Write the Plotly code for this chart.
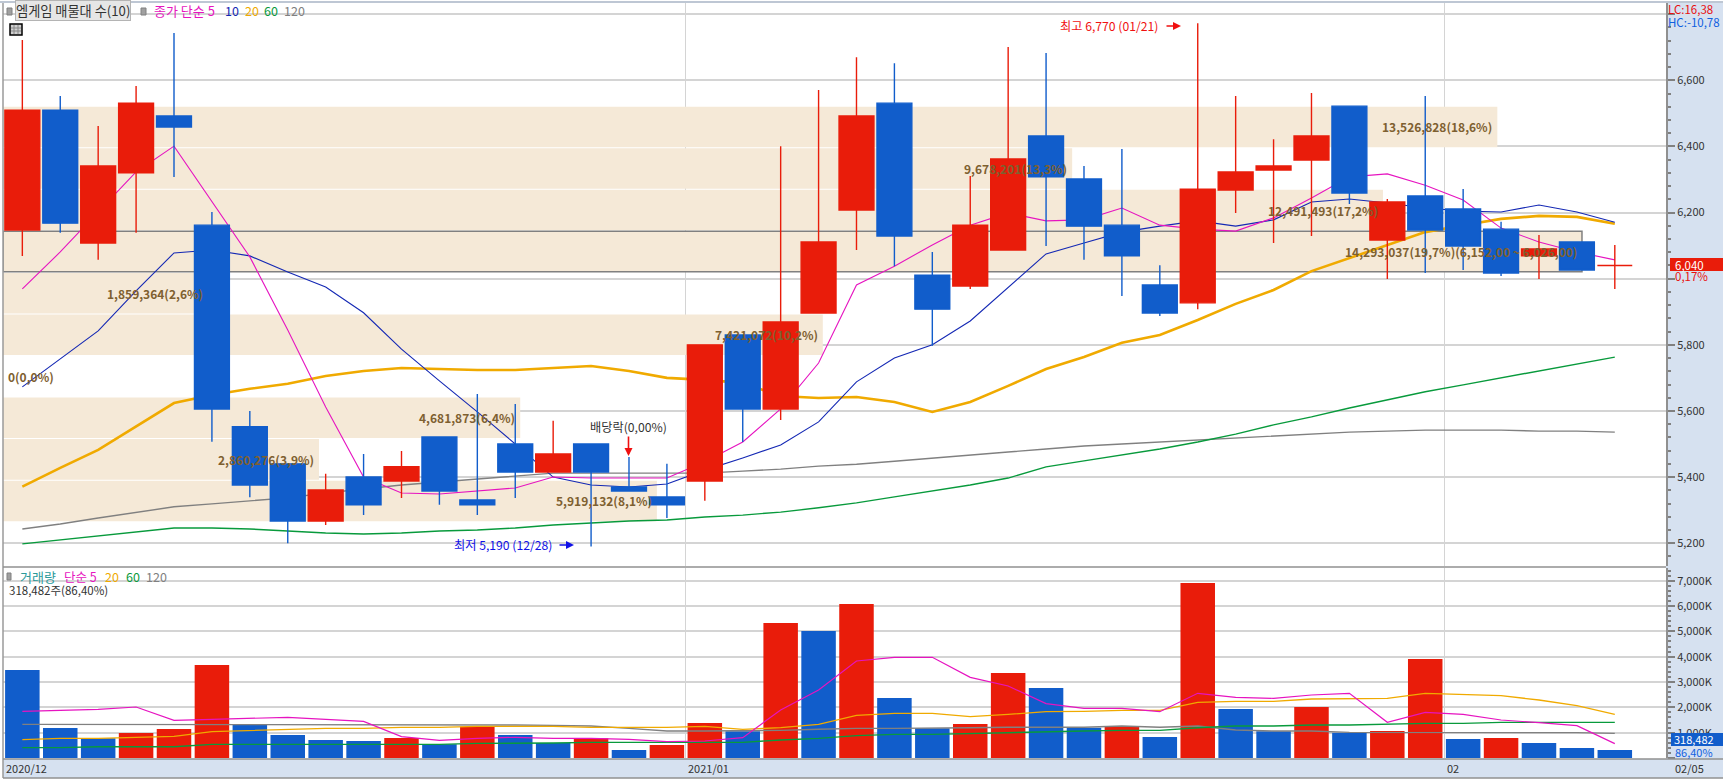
import plotly.graph_objects as go

W, H = 1723, 779
FONT = "Noto Sans CJK KR"

# ---- price candles -------------------------------------------------------
idx = list(range(43))
opens  = [6147,6510,6108,6320,6492,6162,5552,5440,5267,5400,5388,5521,5331,5500,5415,5500,5370,5340,5388,5830,5606,5896,6208,6531,6011,5978,6087,6432,6302,6162,5981,5927,6268,6329,6359,6522,6117,6250,6211,6150,6069,6111,6040]
highs  = [6722,6553,6462,6583,6743,6202,5600,5440,5410,5470,5479,5521,5651,5621,5570,5500,5461,5440,5800,5830,6401,6571,6670,6652,6081,6311,6701,6683,6341,6392,6041,6773,6553,6422,6562,6522,6241,6553,6271,6172,6132,6111,6102]
lows   = [6069,6139,6057,6139,6308,5507,5339,5200,5255,5285,5337,5316,5285,5337,5415,5190,5358,5276,5328,5506,5573,5896,6087,6038,5797,5969,6087,6099,6057,5948,5887,5908,6199,6108,6129,6226,5999,6017,6026,6008,5999,6026,5969]
closes = [6510,6168,6341,6531,6459,5606,5376,5267,5361,5316,5431,5358,5316,5415,5470,5415,5358,5316,5800,5606,5869,6111,6492,6129,5908,6162,6362,6308,6159,6069,5896,6271,6323,6341,6432,6259,6232,6147,6099,6017,6090,6026,6040]

# ---- price moving averages ------------------------------------------------
ma5   = [5969,6081,6202,6323,6401,6235,6066,5845,5612,5400,5352,5349,5358,5367,5400,5397,5397,5397,5446,5506,5606,5745,5981,6038,6102,6162,6199,6175,6178,6214,6162,6150,6144,6184,6244,6308,6317,6283,6238,6153,6111,6081,6057]
ma10  = [5673,5758,5842,5963,6078,6087,6069,6020,5975,5897,5787,5691,5597,5500,5400,5376,5370,5379,5421,5458,5497,5567,5688,5760,5800,5872,5975,6075,6108,6141,6159,6175,6159,6178,6232,6241,6229,6214,6205,6202,6223,6202,6171]
ma20  = [5371,5428,5482,5552,5624,5648,5667,5682,5706,5721,5730,5727,5724,5724,5730,5736,5721,5700,5694,5685,5645,5639,5642,5627,5597,5627,5676,5727,5763,5806,5830,5875,5924,5966,6023,6063,6102,6141,6162,6181,6190,6187,6166]
ma60  = [5198,5210,5222,5234,5246,5246,5243,5237,5231,5228,5231,5237,5240,5246,5255,5261,5267,5270,5279,5285,5294,5307,5322,5340,5358,5376,5397,5431,5449,5467,5485,5506,5530,5558,5582,5609,5633,5658,5679,5700,5721,5742,5763]
ma120 = [5243,5258,5276,5294,5310,5319,5328,5337,5352,5364,5376,5385,5394,5403,5412,5412,5412,5412,5412,5418,5424,5433,5439,5448,5458,5467,5476,5485,5494,5500,5506,5512,5518,5524,5530,5536,5539,5542,5542,5542,5539,5539,5536]

# ---- volume profile (매물대) -------------------------------------------------
band_edges = [6522,6396.3,6270.6,6144.9,6019.2,5893.5,5767.8,5642.1,5516.4,5390.7,5265]
band_volume = [13526828,9678201,12491493,14293037,1859364,7421072,0,4681873,2860276,5919132]
band_labels = ["13,526,828(18,6%)","9,678,201(13,3%)","12,491,493(17,2%)",
               "14,293,037(19,7%)(6,152,00 ~ 6,026,00)","1,859,364(2,6%)","7,421,072(10,2%)",
               "0(0,0%)","4,681,873(6,4%)","2,860,276(3,9%)","5,919,132(8,1%)"]

# ---- volume (thousand shares) ---------------------------------------------
volume = [3474,1184,776,987,1145,3671,1303,908,711,671,789,539,1237,908,592,776,316,513,1382,1053,5329,5013,6079,2368,1171,1342,3355,2763,1197,1263,829,6908,1934,1053,2013,1000,1066,3908,750,789,592,395,318]
vma5   = [1842,1882,1921,2013,1487,1526,1566,1605,1526,1447,842,697,776,816,776,776,737,645,671,803,1895,2684,3829,3974,3974,3184,2842,2145,1961,1961,1829,2553,2395,2355,2487,2553,1408,1803,1724,1500,1395,1276,566]
vma20  = [724,776,776,816,855,1039,1092,1132,1171,1171,1211,1211,1250,1250,1250,1211,1211,1211,1250,1132,1197,1329,1684,1763,1763,1632,1724,1829,1842,1882,1882,2197,2237,2237,2329,2329,2355,2553,2513,2461,2289,2066,1724]
vma60  = [408,408,447,447,447,539,539,539,539,539,539,539,579,579,592,618,618,618,618,618,711,776,882,934,934,974,1000,1053,1066,1092,1092,1197,1263,1263,1303,1303,1342,1368,1368,1408,1408,1395,1408]
vma120 = [1329]*10 + [1303]*4 + [1289,1263,1171,1066,1066,1066,1092,1132,1171,1171,1171,1197,1211,1211,1211,1263,1211,1263,1105,1066,1066] + [1013]*6 + [1000,974]

# ---- axis labels -----------------------------------------------------------
price_ticks = [5200,5400,5600,5800,6000,6200,6400,6600,6800]
price_text  = ["5,200","5,400","5,600","5,800","","6,200","6,400","6,600",""]
vol_ticks = [0,1000,2000,3000,4000,5000,6000,7000]
vol_text  = ["","1,000K","2,000K","3,000K","4,000K","5,000K","6,000K","7,000K"]
date_ticks = [17.5,37.5]

RED, BLUE = "#e91c0a", "#115dcb"
MAG, NAVY, ORG, GRN, GRY = "#e614c0", "#1428b4", "#f0aa00", "#089a3c", "#808080"
BROWN, BAND, PANEL, GRID = "#7e6030", "#f5e9d7", "#d6e1f0", "#d4d4d4"

def px(x): return x / W
def py(y): return 1 - y / H

band_mid = [(band_edges[i] + band_edges[i + 1]) / 2 for i in range(10)]
band_h = (band_edges[0] - band_edges[1]) * 0.975
maxv = max(band_volume)

fig = go.Figure()

# bands, on the base x axis (scaled in shares)
fig.add_trace(go.Bar(
    x=band_volume, y=band_mid, orientation="h", width=band_h,
    marker=dict(color=BAND,
                line=dict(color=[GRY if v == maxv else BAND for v in band_volume],
                          width=[1.5 if v == maxv else 0 for v in band_volume])),
    xaxis="x", yaxis="y", hoverinfo="skip", showlegend=False))

# moving averages under the candles
for vals, col, lw in [(ma120, GRY, 1.4), (ma60, GRN, 1.4), (ma20, ORG, 2.6), (ma10, NAVY, 1.1), (ma5, MAG, 1.1)]:
    fig.add_trace(go.Scatter(x=idx, y=vals, mode="lines", line=dict(color=col, width=lw),
                             xaxis="x2", yaxis="y", showlegend=False))

fig.add_trace(go.Candlestick(
    x=idx, open=opens, high=highs, low=lows, close=closes, whiskerwidth=0,
    increasing=dict(line=dict(color=RED, width=1.4), fillcolor=RED),
    decreasing=dict(line=dict(color=BLUE, width=1.4), fillcolor=BLUE),
    xaxis="x3", yaxis="y", showlegend=False))

# volume panel
vol_colors = [BLUE] + [RED if volume[i] > volume[i - 1] else BLUE for i in range(1, len(volume))]
fig.add_trace(go.Bar(x=idx, y=volume, marker=dict(color=vol_colors, line=dict(width=0)),
                     xaxis="x4", yaxis="y2", showlegend=False))
for vals, col, lw in [(vma120, GRY, 1.4), (vma60, GRN, 1.4), (vma20, ORG, 1.3), (vma5, MAG, 1.2)]:
    fig.add_trace(go.Scatter(x=idx, y=vals, mode="lines", line=dict(color=col, width=lw),
                             xaxis="x4", yaxis="y2", showlegend=False))

ann = []
def text(s, x, y, color="#333333", anchor="left", size=11.5, bold=False, **kw):
    ann.append(dict(text=f"<b>{s}</b>" if bold else s, x=px(x), y=py(y), xref="paper", yref="paper",
                    xanchor=anchor, yanchor="middle", showarrow=False,
                    font=dict(family=FONT, size=size, color=color), **kw))

# band labels sit at the right end of each band
for v, m, s in zip(band_volume, band_mid, band_labels):
    ann.append(dict(text=f"<b>{s}</b>", x=v, y=m, xref="x", yref="y",
                    xanchor="right" if v else "left", yanchor="middle",
                    xshift=-3 if v else 3, showarrow=False,
                    font=dict(family=FONT, size=12, color=BROWN)))

# header
text("엠게임 매물대 수(10)", 15, 11, "#333333", bgcolor="#e6e6e6", bordercolor="#b4b4b4", borderwidth=1, borderpad=0, size=13.2)
text("종가 단순 5", 152, 11, MAG, size=13)
text("10", 223, 11, NAVY, size=12.5)
text("20", 243, 11, ORG, size=12.5)
text("60", 262, 11, GRN, size=12.5)
text("120", 282, 11, GRY, size=12.5)

# extremes and ex-dividend mark
text("최고 6,770 (01/21)", 1160, 26, "#f01010", anchor="right", size=12.2)
text("최저 5,190 (12/28)", 554, 545, "#1010e6", anchor="right", size=12.2)
text("배당락(0,00%)", 628, 427, "#333333", anchor="center", size=12.2)
for x1, y, c in [(1181, 26, "#f01010"), (574, 545, "#1010e6")]:
    ann.append(dict(x=px(x1), y=py(y), ax=-16, ay=0, xref="paper", yref="paper", axref="pixel", ayref="pixel",
                    text="", showarrow=True, arrowhead=2, arrowsize=1, arrowwidth=1.6, arrowcolor=c))
ann.append(dict(x=px(628.5), y=py(456), ax=0, ay=-21, xref="paper", yref="paper", axref="pixel", ayref="pixel",
                text="", showarrow=True, arrowhead=2, arrowsize=1, arrowwidth=1.6, arrowcolor="#f01010"))

# volume panel legend
text("거래량", 18, 576, "#2a9a9a", size=13)
text("단순 5", 62, 576, MAG, size=12.5)
text("20", 103, 576, ORG, size=12.5)
text("60", 124, 576, GRN, size=12.5)
text("120", 144, 576, GRY, size=12.5)
text("318,482주(86,40%)", 7, 590)

# date labels
text("2020/12", 4, 768, size=11)
text("2021/01", 686, 768, size=11)
text("02", 1445, 768, size=11)
text("02/05", 1673, 768, size=11)

# right-side readouts
text("LC:16,38", 1666, 9, "#e81010", size=11.5)
text("HC:-10,78", 1666, 22, "#1060e0", size=11.5)
text("0,17%", 1673, 276, "#e81010")
text("86,40%", 1673, 752, "#1060e0", size=11)
text("6,040", 1673, 264.5, "#ffffff")
text("318,482", 1672, 739, "#ffffff", size=11)

shapes = []
def rect(x0, y0, x1, y1, fill, line=None, lw=0, layer="below"):
    shapes.append(dict(type="rect", xref="paper", yref="paper", x0=px(x0), x1=px(x1), y0=py(y0), y1=py(y1),
                       fillcolor=fill, line=dict(color=line or fill, width=lw), layer=layer))
def line(x0, y0, x1, y1, c, lw=1, layer="below"):
    shapes.append(dict(type="line", xref="paper", yref="paper", x0=px(x0), x1=px(x1), y0=py(y0), y1=py(y1),
                       line=dict(color=c, width=lw), layer=layer))

rect(1666, 3, 1723, 778, PANEL)
rect(3, 759, 1723, 778, PANEL)
line(0, 2, 1723, 2, "#a8b4c6", 1.5, "above")
line(3, 3, 3, 778, "#9a9a9a", 1.5, "above")
line(3, 567, 1666, 567, "#909090", 1.5, "above")
line(3, 759, 1723, 759, "#909090", 1.5, "above")
line(3, 778, 1723, 778, "#909090", 1.5, "above")
rect(7, 8, 12, 15, "#a0a0a0", "#808080", 1, "above")
rect(141, 8, 146, 15, "#a0a0a0", "#808080", 1, "above")
rect(7, 573, 11, 580, "#a0a0a0", "#808080", 1, "above")
rect(10, 24, 22, 35, "#d0d0d0", "#000000", 1.5, "above")
line(14, 25, 14, 34, "#888888", 1, "above")
line(18, 25, 18, 34, "#888888", 1, "above")
line(11, 28, 21, 28, "#888888", 1, "above")
line(11, 31, 21, 31, "#888888", 1, "above")
rect(1670, 258, 1723, 271, RED, layer="above")
rect(1671, 733, 1723, 746, BLUE, layer="above")

dom_x = [px(3), px(1666)]
x_range = [-0.51, 43.35]
hidden = dict(visible=False, domain=dom_x, range=x_range, anchor="y", overlaying="x", rangeslider=dict(visible=False))

fig.update_layout(
    width=W, height=H, margin=dict(l=0, r=0, t=0, b=0), autosize=False,
    paper_bgcolor="#ffffff", plot_bgcolor="#ffffff", showlegend=False,
    boxgap=0.08, boxgroupgap=0, bargap=0.09, barmode="overlay",
    xaxis=dict(visible=False, domain=dom_x, range=[0, 15053570], anchor="y"),
    xaxis2=dict(hidden),
    xaxis3=dict(domain=dom_x, range=x_range, anchor="y", overlaying="x", rangeslider=dict(visible=False),
                tickmode="array", tickvals=date_ticks, showticklabels=False, ticks="",
                showgrid=True, gridcolor=GRID, gridwidth=1, zeroline=False, showline=False),
    xaxis4=dict(domain=dom_x, range=x_range, anchor="y2",
                tickmode="array", tickvals=date_ticks, showticklabels=False, ticks="",
                showgrid=True, gridcolor=GRID, gridwidth=1, zeroline=False, showline=False),
    yaxis=dict(domain=[py(566), py(3)], range=[5131, 6834], side="right", anchor="x",
               tickmode="array", tickvals=price_ticks, ticktext=price_text,
               ticks="outside", ticklen=7, tickcolor="#808080", tickwidth=1.5,
               tickfont=dict(family=FONT, size=11, color="#333333"),
               minor=dict(dtick=40, tick0=0, ticks="outside", ticklen=3, tickcolor="#808080", showgrid=False),
               showgrid=True, gridcolor=GRID, gridwidth=1.5, zeroline=False,
               showline=True, linecolor="#909090", linewidth=2),
    yaxis2=dict(domain=[py(758), py(568)], range=[0, 7500], side="right", anchor="x4",
                tickmode="array", tickvals=vol_ticks, ticktext=vol_text,
                ticks="outside", ticklen=7, tickcolor="#808080", tickwidth=1.5,
                tickfont=dict(family=FONT, size=11, color="#333333"),
                minor=dict(dtick=200, tick0=0, ticks="outside", ticklen=3, tickcolor="#808080", showgrid=False),
                showgrid=True, gridcolor=GRID, gridwidth=1.5, zeroline=False,
                showline=True, linecolor="#909090", linewidth=2),
    annotations=ann, shapes=shapes,
)

fig.write_html("out.html", config=dict(displayModeBar=False),
               post_script="document.body.style.margin='0';document.documentElement.style.overflow='hidden';")
